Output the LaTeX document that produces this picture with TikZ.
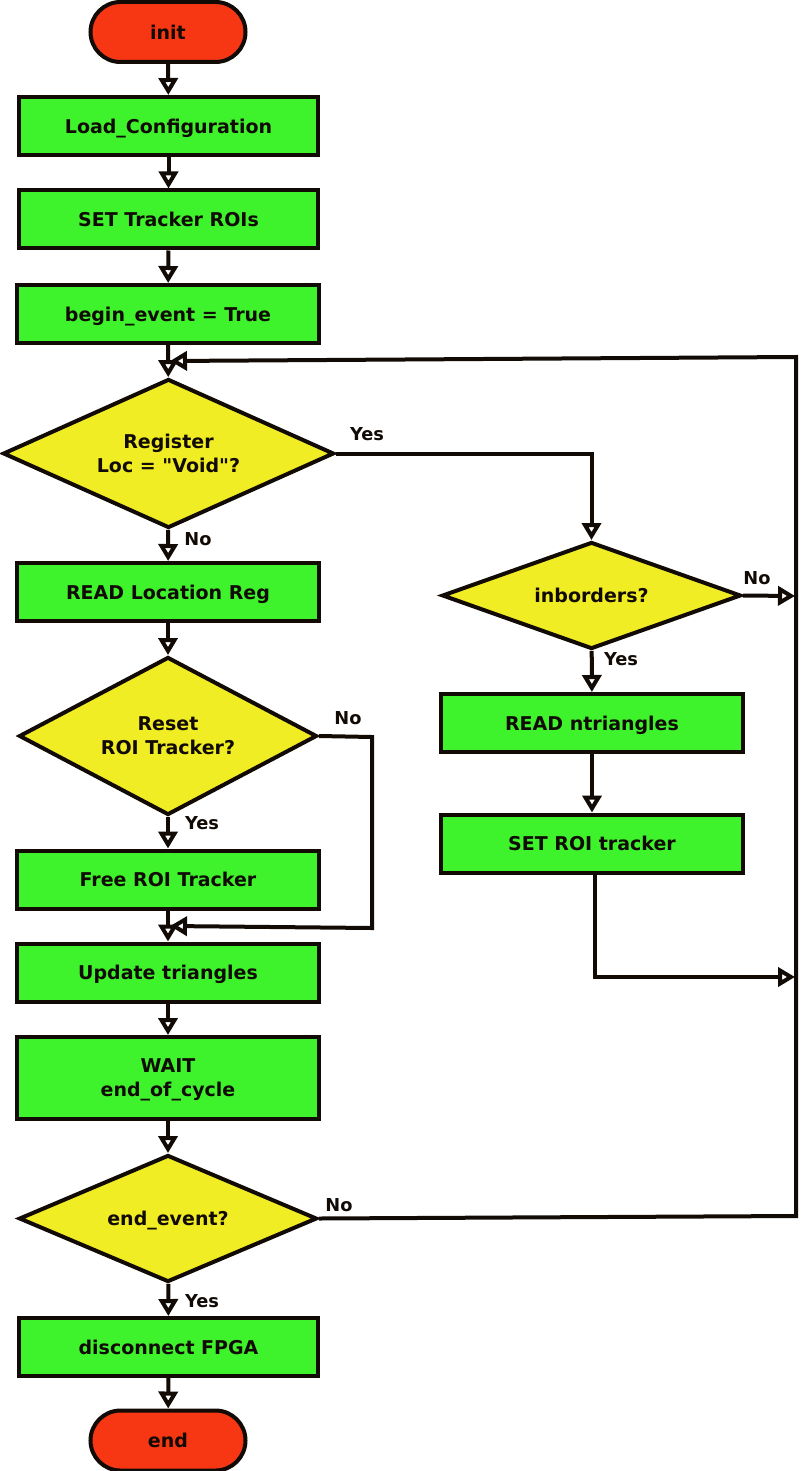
\documentclass[tikz,border=0pt]{standalone}
\usepackage{fontspec}
\setmainfont{DejaVu Sans}[Ligatures=TeXOff]
\usetikzlibrary{shapes.geometric,arrows.meta}
\definecolor{gr}{RGB}{62,242,44}
\definecolor{rd}{RGB}{247,55,19}
\definecolor{ye}{RGB}{240,237,37}
\definecolor{ink}{RGB}{17,10,5}
\newcommand{\mfont}{\fontsize{9.5pt}{12pt}\selectfont\bfseries}
\newcommand{\lfont}{\fontsize{8.9pt}{10pt}\selectfont\bfseries}
\begin{document}
\begin{tikzpicture}[x=0.5pt,y=-0.5pt,
  box/.style={draw=ink,line width=2pt,fill=gr,rectangle,minimum height=29pt,inner sep=0pt,font=\mfont,align=center,text=ink,text depth=0pt},
  term/.style={draw=ink,line width=2pt,fill=rd,rectangle,rounded corners=15pt,minimum width=77.5pt,minimum height=30pt,inner sep=0pt,font=\mfont,text=ink,text depth=0pt},
  dec/.style={draw=ink,line width=2pt,fill=ye,diamond,aspect=2,inner sep=0pt,font=\mfont,align=center,text=ink,text depth=0pt},
  lab/.style={font=\lfont,text=ink,inner sep=0pt},
  arr/.style={draw=ink,line width=2pt,-{Triangle[open,fill=white,length=8.5pt,width=9.5pt]}}]
\useasboundingbox (0,0) rectangle (800,1471);
% main column
\node[term] (init) at (168,32) {init};
\node[box,minimum width=149.5pt] (load) at (168.5,126) {Load\_Configuration};
\node[box,minimum width=149.5pt] (setroi0) at (168.5,219.5) {SET Tracker ROIs};
\node[box,minimum width=151pt] (begin) at (168,314) {begin\_event = True};
\node[dec,minimum width=165.5pt,minimum height=74.5pt] (reg) at (168.5,453.5) {Register\\Loc = "Void"?};
\node[box,minimum width=151pt] (readloc) at (168,592) {READ Location Reg};
\node[dec,minimum width=149pt,minimum height=79pt] (reset) at (168,736) {Reset\\ROI Tracker?};
\node[box,minimum width=151pt] (free) at (168,879.5) {Free ROI Tracker};
\node[box,minimum width=151pt] (upd) at (168,972.5) {Update triangles};
\node[box,minimum width=151pt,minimum height=41pt] (wait) at (168,1078) {WAIT\\end\_of\_cycle};
\node[dec,minimum width=149pt,minimum height=63.5pt] (endev) at (168,1218.5) {end\_event?};
\node[box,minimum width=149.5pt] (disc) at (168.5,1347) {disconnect FPGA};
\node[term] (end) at (168,1440.5) {end};
% right column
\node[dec,minimum width=149.5pt,minimum height=53.5pt] (inb) at (591.5,595.5) {inborders?};
\node[box,minimum width=151pt] (readn) at (592,723) {READ ntriangles};
\node[box,minimum width=151pt] (setroi) at (592,843.5) {SET ROI tracker};
% junction coordinates
\coordinate (rtop) at (796,357);
\coordinate (rbot) at (796,1216);
\coordinate (jtop) at (170,361);
\coordinate (jinb) at (795,596);
\coordinate (jset) at (795,977);
\coordinate (rsA) at (372,737);
\coordinate (rsB) at (372,928);
\coordinate (jrs) at (170,926);
\coordinate (sB) at (595,977);
% straight flow
\draw[arr] (init) -- (load);
\draw[arr] (load) -- (setroi0);
\draw[arr] (setroi0) -- (begin);
\draw[arr] (begin) -- (reg);
\draw[arr] (reg) -- (readloc);
\draw[arr] (readloc) -- (reset);
\draw[arr] (reset) -- (free);
\draw[arr] (free) -- (upd);
\draw[arr] (upd) -- (wait);
\draw[arr] (wait) -- (endev);
\draw[arr] (endev) -- (disc);
\draw[arr] (disc) -- (end);
% branches
\draw[arr] (reg.east) -| (inb.north);
\draw[arr] (inb) -- (readn);
\draw[arr] (readn) -- (setroi);
\draw[arr] (inb.east) -- (jinb);
\draw[arr] (setroi.south -| sB) -- (sB) -- (jset);
\draw[arr] (reset.east) -- (rsA) -- (rsB) -- (jrs);
\draw[arr] (endev.east) -- (rbot) -- (rtop) -- (jtop);
% labels
\node[lab] (l1) at (367,434) {Yes};
\node[lab] (l2) at (198,539) {No};
\node[lab] (l3) at (757,578) {No};
\node[lab] (l4) at (621,659) {Yes};
\node[lab] (l5) at (348,718) {No};
\node[lab] (l6) at (202,823) {Yes};
\node[lab] (l7) at (339,1205) {No};
\node[lab] (l8) at (202,1301) {Yes};
\end{tikzpicture}
\end{document}
